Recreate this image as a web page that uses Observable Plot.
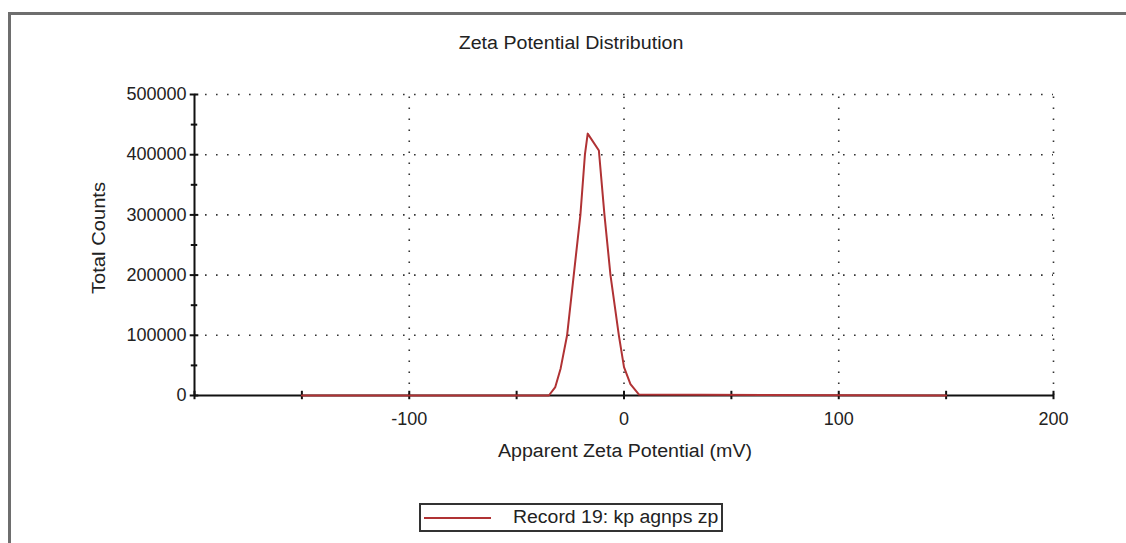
<!DOCTYPE html>
<html>
<head>
<meta charset="utf-8">
<script src="https://cdn.jsdelivr.net/npm/d3@7"></script>
<script src="https://cdn.jsdelivr.net/npm/@observablehq/plot@0.6"></script>
<style>
  html, body { margin: 0; padding: 0; background: #fff; }
  #wrap { position: relative; width: 1126px; height: 543px; overflow: hidden; background: #fff;
          font-family: "Liberation Sans", Arial, sans-serif; color: #222; }
  #frame { position: absolute; left: 8px; top: 12px; width: 1300px; height: 700px;
           border-top: 3px solid #6e6e6e; border-left: 3px solid #6e6e6e; }
  #chart { position: absolute; left: 0; top: 0; }
  .lbl { position: absolute; font-size: 18px; white-space: nowrap; line-height: 1; }
  #title { left: 571px; top: 43px; transform: translate(-50%, -50%) scaleX(1.09); }
  #xlabel { left: 625px; top: 451px; transform: translate(-50%, -50%) scaleX(1.09); }
  #ylabel { left: 99px; top: 238px; transform: translate(-50%, -50%) rotate(-90deg) scaleX(1.12); }
  #legend { position: absolute; left: 419px; top: 503px; width: 300px; height: 25px;
            border: 2px solid #333; font-size: 18px; }
  #legend .swatch { position: absolute; left: 3px; top: 12px; width: 67px; height: 2px; background: #b03234; }
  #legend .txt { position: absolute; left: 92px; top: 3px; line-height: 1.1; transform-origin: 0 50%; transform: scaleX(1.08); }
</style>
</head>
<body>
<div id="wrap">
  <div id="frame"></div>
  <div id="chart"></div>
  <div class="lbl" id="title">Zeta Potential Distribution</div>
  <div class="lbl" id="ylabel">Total Counts</div>
  <div class="lbl" id="xlabel">Apparent Zeta Potential (mV)</div>
  <div id="legend"><div class="swatch"></div><div class="txt">Record 19: kp agnps zp</div></div>
</div>
<script>
// Data
const zeta   = [-150, -35, -32, -29.5, -26.5, -23.4, -20.3, -18.2, -16.9, -11.7, -9.1, -6.3, -2.4, 0, 3, 7, 150];
const counts = [0, 0, 14000, 45000, 100000, 200000, 300000, 400000, 435000, 407000, 300000, 200000, 100000, 47000, 19000, 1500, 0];

const xDomain = [-200, 200];
const yDomain = [0, 500000];
const xTickLabels = [-100, 0, 100, 200];
const xTickMarks = [-200, -150, -100, -50, 0, 50, 100, 150, 200];
const yTickLabels = [0, 100000, 200000, 300000, 400000, 500000];
const yMinorTicks = [50000, 150000, 250000, 350000, 450000];
const xGrid = [-100, 0, 100, 200];
const yGrid = [100000, 200000, 300000, 400000, 500000];
const seriesName = "Record 19: kp agnps zp";

const data = zeta.map((z, i) => ({zeta: z, counts: counts[i]}));

const dots = {stroke: "#333", strokeWidth: 1.6, strokeDasharray: "1.6,9.4"};

const plot = Plot.plot({
  width: 1126,
  height: 470,
  marginLeft: 194,
  marginRight: 73,
  marginTop: 94,
  marginBottom: 75,
  style: {fontSize: "18px", fontFamily: "'Liberation Sans', Arial, sans-serif", color: "#222", background: "transparent"},
  x: {domain: xDomain, label: null},
  y: {domain: yDomain, label: null},
  marks: [
    Plot.ruleY(yGrid, {...dots}),
    Plot.ruleX(xGrid, {y1: 0, y2: 500000, ...dots}),
    Plot.axisX(xTickLabels, {tickSize: 0, tickPadding: 17, tickFormat: d => String(d), label: null}),
    Plot.axisY(yTickLabels, {tickSize: 0, tickPadding: 8, tickFormat: d => String(d), label: null}),
    Plot.ruleX([-200], {y1: 0, y2: 500000, stroke: "#111", strokeWidth: 2}),
    Plot.ruleY([0], {x1: -200, x2: 200, stroke: "#111", strokeWidth: 2}),
    Plot.ruleX(xTickMarks, {y1: -7000, y2: 7000, stroke: "#111", strokeWidth: 2}),
    Plot.ruleY(yTickLabels, {x1: -202, x2: -198, stroke: "#111", strokeWidth: 2}),
    Plot.ruleY(yMinorTicks, {x1: -201.5, x2: -198.5, stroke: "#111", strokeWidth: 2}),
    Plot.line(data, {x: "zeta", y: "counts", stroke: "#b03234", strokeWidth: 2, title: () => seriesName})
  ]
});
document.getElementById("chart").appendChild(plot);
</script>
</body>
</html>
